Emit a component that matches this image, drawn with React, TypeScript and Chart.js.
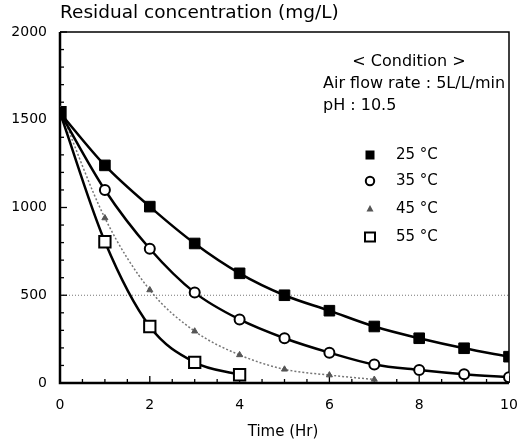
import React, { useEffect, useRef } from "react";
import { Chart, registerables } from "chart.js";

Chart.register(...registerables);

const times25 = [0, 1, 2, 3, 4, 5, 6, 7, 8, 9, 10];
const c25 = [1540, 1240, 1005, 795, 625, 500, 412, 322, 255, 198, 150];
const times35 = [0, 1, 2, 3, 4, 5, 6, 7, 8, 9, 10];
const c35 = [1540, 1100, 765, 515, 362, 255, 173, 105, 74, 50, 33];
const times45 = [0, 1, 2, 3, 4, 5, 6, 7];
const c45 = [1560, 940, 530, 295, 160, 78, 45, 20];
const times55 = [0, 1, 2, 3, 4];
const c55 = [1540, 805, 322, 118, 47];

const seriesLabels = ["25 \u00B0C", "35 \u00B0C", "45 \u00B0C", "55 \u00B0C"];
const yTicks = [0, 500, 1000, 1500, 2000];
const xTicks = [0, 2, 4, 6, 8, 10];
const titleText = "Residual concentration (mg/L)";
const xTitle = "Time (Hr)";
const conditionLines = ["< Condition >", "Air flow rate : 5L/L/min", "pH : 10.5"];

const FONT = "'DejaVu Sans', sans-serif";

function pts(xs: number[], ys: number[]) {
  return xs.map((x, i) => ({ x, y: ys[i] }));
}

function drawMarker(ctx: CanvasRenderingContext2D, kind: number, x: number, y: number) {
  ctx.save();
  if (kind === 0) {
    ctx.fillStyle = "#000";
    ctx.fillRect(x - 4.5, y - 4.5, 9, 9);
  } else if (kind === 1) {
    ctx.fillStyle = "#fff";
    ctx.strokeStyle = "#000";
    ctx.lineWidth = 2;
    ctx.beginPath();
    ctx.arc(x, y, 4.2, 0, Math.PI * 2);
    ctx.fill();
    ctx.stroke();
  } else if (kind === 2) {
    ctx.fillStyle = "#555";
    ctx.beginPath();
    ctx.moveTo(x, y - 4);
    ctx.lineTo(x + 3.5, y + 2.5);
    ctx.lineTo(x - 3.5, y + 2.5);
    ctx.closePath();
    ctx.fill();
  } else {
    ctx.fillStyle = "#fff";
    ctx.strokeStyle = "#000";
    ctx.lineWidth = 2;
    ctx.fillRect(x - 5, y - 4.5, 10, 9);
    ctx.strokeRect(x - 5, y - 4.5, 10, 9);
  }
  ctx.restore();
}

const framePlugin = {
  id: "frame",
  beforeDatasetsDraw(chart: any) {
    const { ctx, chartArea } = chart;
    const xs = chart.scales.x;
    const ys = chart.scales.y;
    const { left, right, top, bottom } = chartArea;
    ctx.save();
    // dotted gridline at 500
    ctx.strokeStyle = "#777";
    ctx.lineWidth = 1;
    ctx.setLineDash([1, 2]);
    const y500 = ys.getPixelForValue(500);
    ctx.beginPath();
    ctx.moveTo(left, y500);
    ctx.lineTo(right, y500);
    ctx.stroke();
    ctx.setLineDash([]);
    // borders
    ctx.strokeStyle = "#000";
    ctx.lineWidth = 1.5;
    ctx.beginPath();
    ctx.moveTo(left, top);
    ctx.lineTo(right, top);
    ctx.lineTo(right, bottom);
    ctx.stroke();
    ctx.lineWidth = 2.5;
    ctx.beginPath();
    ctx.moveTo(left, top);
    ctx.lineTo(left, bottom);
    ctx.lineTo(right, bottom);
    ctx.stroke();
    // inward ticks
    ctx.lineWidth = 1.3;
    for (let v = 0; v <= 2000; v += 100) {
      const py = ys.getPixelForValue(v);
      const len = v % 500 === 0 ? 7 : 4;
      ctx.beginPath();
      ctx.moveTo(left, py);
      ctx.lineTo(left + len, py);
      ctx.stroke();
    }
    for (let v = 0; v <= 10; v += 0.5) {
      const px = xs.getPixelForValue(v);
      const len = v % 2 === 0 ? 7 : 4;
      ctx.beginPath();
      ctx.moveTo(px, bottom);
      ctx.lineTo(px, bottom - len);
      ctx.stroke();
    }
    ctx.restore();
  },
  afterDraw(chart: any) {
    const { ctx, chartArea } = chart;
    ctx.save();
    ctx.fillStyle = "#000";
    ctx.textBaseline = "middle";
    // title
    ctx.font = `18.5px ${FONT}`;
    ctx.textAlign = "left";
    ctx.fillText(titleText, chartArea.left, 13);
    // x title
    ctx.font = `15px ${FONT}`;
    ctx.textAlign = "center";
    ctx.fillText(xTitle, 283, 432);
    // condition
    ctx.font = `16px ${FONT}`;
    ctx.textAlign = "center";
    ctx.fillText(conditionLines[0], 409, 62);
    ctx.textAlign = "left";
    ctx.fillText(conditionLines[1], 323, 84);
    ctx.fillText(conditionLines[2], 323, 106);
    // legend
    const rows = [155, 181, 209, 237];
    ctx.font = `15px ${FONT}`;
    rows.forEach((ry, i) => {
      drawMarker(ctx, i, 370, ry);
      ctx.fillStyle = "#000";
      ctx.textAlign = "left";
      ctx.fillText(seriesLabels[i], 396, ry);
    });
    ctx.restore();
  },
};

export default function App() {
  const ref = useRef<HTMLCanvasElement>(null);
  useEffect(() => {
    document.body.style.margin = "0";
    const canvas = ref.current!;
    const chart = new Chart(canvas, {
      type: "line",
      data: {
        datasets: [
          {
            label: seriesLabels[0],
            data: pts(times25, c25),
            borderColor: "#000",
            borderWidth: 2.5,
            cubicInterpolationMode: "monotone",
            pointStyle: "rect",
            pointRadius: 7.5,
            pointBackgroundColor: "#000",
            pointBorderColor: "#000",
            pointBorderWidth: 1,
          },
          {
            label: seriesLabels[1],
            data: pts(times35, c35),
            borderColor: "#000",
            borderWidth: 2.5,
            cubicInterpolationMode: "monotone",
            pointStyle: "circle",
            pointRadius: 5,
            pointBackgroundColor: "#fff",
            pointBorderColor: "#000",
            pointBorderWidth: 2,
          },
          {
            label: seriesLabels[2],
            data: pts(times45, c45),
            borderColor: "#777",
            borderWidth: 1.5,
            borderDash: [2, 2],
            cubicInterpolationMode: "monotone",
            pointStyle: "triangle",
            pointRadius: 3.5,
            pointBackgroundColor: "#555",
            pointBorderColor: "#555",
            pointBorderWidth: 1,
          },
          {
            label: seriesLabels[3],
            data: pts(times55, c55),
            borderColor: "#000",
            borderWidth: 2.5,
            cubicInterpolationMode: "monotone",
            pointStyle: "rect",
            pointRadius: 8,
            pointBackgroundColor: "#fff",
            pointBorderColor: "#000",
            pointBorderWidth: 2,
          },
        ],
      },
      options: {
        animation: false,
        responsive: false,
        devicePixelRatio: 1,
        layout: { padding: { left: 0, right: 15, top: 32, bottom: 23 } },
        plugins: { legend: { display: false }, tooltip: { enabled: false }, title: { display: false } },
        scales: {
          x: {
            type: "linear",
            min: 0,
            max: 10,
            afterBuildTicks: (s: any) => {
              s.ticks = xTicks.map((v) => ({ value: v }));
            },
            afterFit: (s: any) => {
              s.height = 40;
              s.paddingLeft = 0;
              s.paddingRight = 0;
            },
            grid: { display: false, drawTicks: false },
            border: { display: false },
            ticks: { color: "#000", padding: 14, font: { family: FONT, size: 14 }, callback: (v: any) => String(v) },
          },
          y: {
            type: "linear",
            min: 0,
            max: 2000,
            afterBuildTicks: (s: any) => {
              s.ticks = yTicks.map((v) => ({ value: v }));
            },
            afterFit: (s: any) => {
              s.width = 60;
              s.paddingTop = 0;
              s.paddingBottom = 0;
            },
            grid: { display: false, drawTicks: false },
            border: { display: false },
            ticks: { color: "#000", padding: 13, font: { family: FONT, size: 14 }, callback: (v: any) => String(v) },
          },
        },
      },
      plugins: [framePlugin],
    } as any);
    return () => chart.destroy();
  }, []);
  return <canvas ref={ref} width={524} height={446} style={{ display: "block" }} />;
}
